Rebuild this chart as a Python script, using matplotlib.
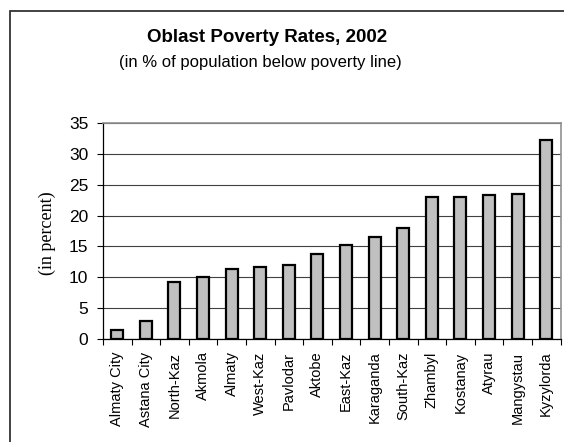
import matplotlib
matplotlib.use("Agg")
import matplotlib.pyplot as plt
from matplotlib.patches import Rectangle

regions = ["Almaty City", "Astana City", "North-Kaz", "Akmola", "Almaty",
           "West-Kaz", "Pavlodar", "Aktobe", "East-Kaz", "Karaganda",
           "South-Kaz", "Zhambyl", "Kostanay", "Atyrau", "Mangystau", "Kyzylorda"]
poverty_rate = [1.5, 2.9, 9.2, 10.0, 11.3, 11.7, 12.0, 13.8,
                15.2, 16.6, 18.0, 23.0, 23.0, 23.3, 23.5, 32.2]
y_ticks = [0, 5, 10, 15, 20, 25, 30, 35]

plt.rcParams['font.family'] = ['Liberation Sans', 'DejaVu Sans']

fig = plt.figure(figsize=(5.64, 4.42), dpi=100)

# chart frame (extends past the right and bottom edges)
fig.patches.append(Rectangle((9.5 / 564, -0.1), 1.2, 1 - 10.5 / 442 + 0.1,
                             transform=fig.transFigure, fill=False,
                             edgecolor="#333333", linewidth=1.3))

ax = fig.add_axes([103 / 564, 1 - 339 / 442, (560.5 - 103) / 564, (339 - 123) / 442])

x = list(range(len(regions)))
ax.bar(x, poverty_rate, width=0.42, color="#C0C0C0", edgecolor="black",
       linewidth=1.6, zorder=3)

ax.set_xlim(-0.5, len(regions) - 0.5)
ax.set_ylim(0, 35)
ax.set_yticks(y_ticks)
ax.set_yticklabels([str(v) for v in y_ticks], fontsize=12.5)

ax.set_xticks(x)
ax.set_xticklabels(regions, rotation=90, fontsize=10.5)
ax.tick_params(axis="x", which="major", length=0, pad=9)
ax.set_xticks([i - 0.5 for i in range(len(regions) + 1)], minor=True)
ax.tick_params(axis="x", which="minor", length=4, width=0.8, direction="out")
ax.tick_params(axis="y", length=4.5, width=0.8, direction="out", pad=6)

ax.grid(axis="y", color="#404040", linewidth=0.8, zorder=0)
ax.set_axisbelow(True)

for side in ("top", "right"):
    ax.spines[side].set_color("#909090")
    ax.spines[side].set_linewidth(1.2)
for side in ("left", "bottom"):
    ax.spines[side].set_color("black")
    ax.spines[side].set_linewidth(0.9)

ax.set_ylabel("(in percent)", family=["Liberation Serif", "DejaVu Serif"],
              fontsize=13)
ax.yaxis.set_label_coords(47 / 564, 1 - 233 / 442, transform=fig.transFigure)
ax.yaxis.label.set_va("center")

fig.text(267 / 564, 1 - 38 / 442, "Oblast Poverty Rates, 2002", ha="center",
         va="center", fontsize=13.5, fontweight="bold")
fig.text(260 / 564, 1 - 62 / 442, "(in % of population below poverty line)",
         ha="center", va="center", fontsize=12)

fig.savefig("out.png", dpi=100)
